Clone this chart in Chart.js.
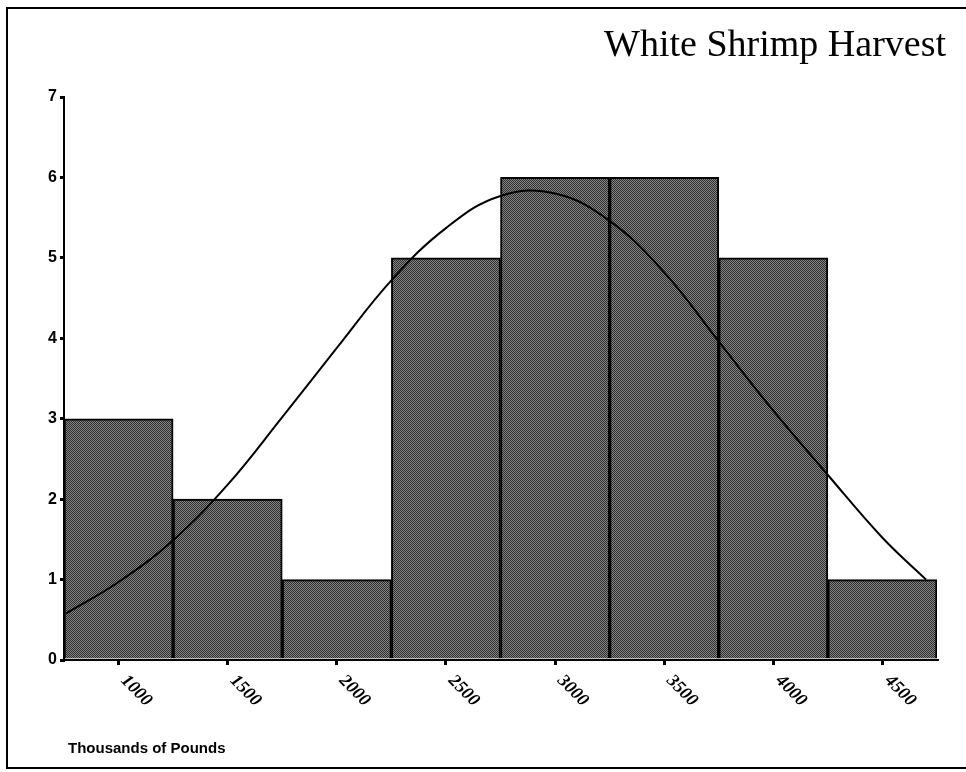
<!DOCTYPE html>
<html>
<head>
<meta charset="utf-8">
<script src="https://cdn.jsdelivr.net/npm/chart.js@4.4.1/dist/chart.umd.min.js"></script>
<style>
  html, body { margin: 0; padding: 0; background: #fff; }
  #wrap { width: 966px; height: 772px; position: relative; }
</style>
</head>
<body>
<div id="wrap"><canvas id="shrimpChart" width="966" height="772"></canvas></div>
<script>
// Histogram bins (bin centres, thousands of pounds) and counts
const binCenters = [1000, 1500, 2000, 2500, 3000, 3500, 4000, 4500];
const binCounts = [3, 2, 1, 5, 6, 6, 5, 1];

// Fitted normal curve
const curveX = [760, 1000, 1250, 1500, 1750, 2000, 2250, 2500, 2750, 3000, 3250, 3500, 3750, 4000, 4250, 4500, 4700];
const curveY = [0.58, 0.97, 1.49, 2.18, 3.02, 3.88, 4.72, 5.37, 5.77, 5.80, 5.46, 4.82, 3.96, 3.10, 2.30, 1.52, 1.00];

const xTickLabels = [1000, 1500, 2000, 2500, 3000, 3500, 4000, 4500];
const yTickLabels = [0, 1, 2, 3, 4, 5, 6, 7];

const chartTitle = 'White Shrimp Harvest';
const xAxisTitle = 'Thousands of Pounds';

// halftone-ish fill for the bars
function makePattern() {
    const c = document.createElement('canvas');
    c.width = 2; c.height = 2;
    const g = c.getContext('2d');
    g.fillStyle = '#858585'; g.fillRect(0, 0, 2, 2);
    g.fillStyle = '#2e2e2e'; g.fillRect(0, 0, 1, 1); g.fillRect(1, 1, 1, 1);
    return g.createPattern(c, 'repeat');
}

// frame, title, rotated x labels and x axis title
const decorations = {
    id: 'decorations',
    afterDraw(chart) {
        const ctx = chart.ctx;
        const xs = chart.scales.x;
        ctx.save();
        // frame
        ctx.strokeStyle = '#000';
        ctx.lineWidth = 2;
        ctx.beginPath();
        ctx.moveTo(975, 8);
        ctx.lineTo(7, 8);
        ctx.lineTo(7, 768);
        ctx.lineTo(975, 768);
        ctx.stroke();

        // title
        ctx.fillStyle = '#000';
        ctx.font = '38px "Liberation Serif", "Times New Roman", serif';
        ctx.textAlign = 'right';
        ctx.textBaseline = 'alphabetic';
        ctx.fillText(chartTitle, 946, 56);

        // x tick labels, rotated down to the right
        ctx.font = 'bold italic 18px "Liberation Serif", serif';
        ctx.textAlign = 'left';
        ctx.textBaseline = 'middle';
        xTickLabels.forEach(v => {
            const px = xs.getPixelForValue(v);
            ctx.save();
            ctx.translate(px + 5, xs.top + 18);
            ctx.rotate(Math.PI / 4);
            ctx.fillText(String(v), 0, 0);
            ctx.restore();
        });

        // axis title
        ctx.font = 'bold 15px "Liberation Sans", Arial, sans-serif';
        ctx.textAlign = 'left';
        ctx.textBaseline = 'middle';
        ctx.fillText(xAxisTitle, 68, 749);
        ctx.restore();
    }
};

document.addEventListener('DOMContentLoaded', () => {
    const ctx = document.getElementById('shrimpChart').getContext('2d');
    new Chart(ctx, {
        data: {
            datasets: [
                {
                    type: 'line',
                    label: 'Normal',
                    data: curveX.map((x, i) => ({ x: x, y: curveY[i] })),
                    borderColor: '#000',
                    borderWidth: 2,
                    pointRadius: 0,
                    tension: 0.4,
                    fill: false,
                    order: 0
                },
                {
                    type: 'bar',
                    label: 'Count',
                    data: binCenters.map((x, i) => ({ x: x, y: binCounts[i] })),
                    backgroundColor: makePattern(),
                    borderColor: '#000',
                    borderWidth: 2,
                    barPercentage: 1.0,
                    categoryPercentage: 1.0,
                    order: 1
                }
            ]
        },
        options: {
            responsive: false,
            animation: false,
            layout: {
                padding: { top: 97, right: 29, left: 0, bottom: 0 }
            },
            plugins: {
                legend: { display: false },
                tooltip: { enabled: false },
                title: { display: false }
            },
            scales: {
                x: {
                    type: 'linear',
                    offset: false,
                    min: 750,
                    max: 4750,
                    afterBuildTicks: (scale) => {
                        scale.ticks = xTickLabels.map(v => ({ value: v }));
                    },
                    afterFit: (scale) => { scale.height = 772 - 660; },
                    ticks: { display: false },
                    grid: {
                        offset: false,
                        drawOnChartArea: false,
                        drawTicks: true,
                        tickLength: 5,
                        color: '#000',
                        lineWidth: 3
                    },
                    border: { display: true, color: '#000', width: 2 }
                },
                y: {
                    min: 0,
                    max: 7,
                    afterBuildTicks: (scale) => {
                        scale.ticks = yTickLabels.map(v => ({ value: v }));
                    },
                    afterFit: (scale) => { scale.width = 64; },
                    ticks: {
                        color: '#000',
                        padding: 3,
                        font: { family: '"Liberation Sans", Arial, sans-serif', size: 16, weight: 'bold' }
                    },
                    grid: {
                        drawOnChartArea: false,
                        drawTicks: true,
                        tickLength: 4,
                        color: '#000',
                        lineWidth: 3
                    },
                    border: { display: true, color: '#000', width: 2 }
                }
            }
        },
        plugins: [decorations]
    });
});
</script>
</body>
</html>
